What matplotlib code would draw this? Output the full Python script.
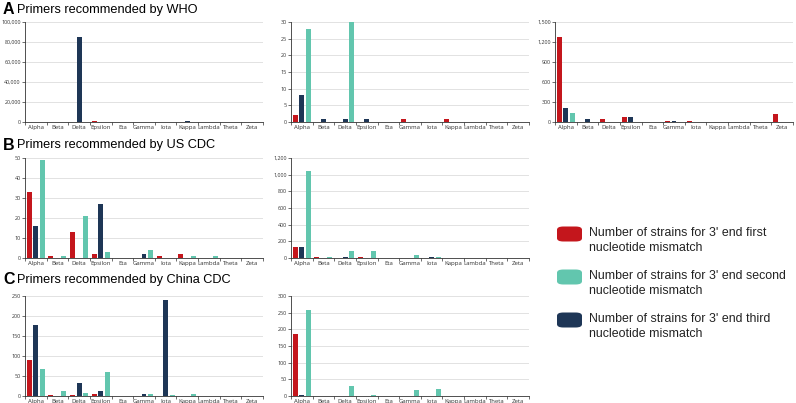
import matplotlib.pyplot as plt
from matplotlib.patches import FancyBboxPatch
from matplotlib.ticker import FuncFormatter
import numpy as np

variants = ['Alpha', 'Beta', 'Delta', 'Epsilon', 'Eta', 'Gamma',
            'Iota', 'Kappa', 'Lambda', 'Theta', 'Zeta']

# number of strains per variant: first / second / third nucleotide mismatch
who1_first = [0, 0, 0, 900, 0, 0, 0, 0, 0, 0, 0]
who1_second = [0, 0, 0, 0, 0, 0, 0, 0, 0, 0, 0]
who1_third = [0, 0, 85500, 0, 0, 0, 0, 1300, 0, 0, 0]

who2_first = [2, 0, 0, 0, 0, 1, 0, 1, 0, 0, 0]
who2_second = [28, 0, 30, 0, 0, 0, 0, 0, 0, 0, 0]
who2_third = [8, 1, 1, 1, 0, 0, 0, 0, 0, 0, 0]

who3_first = [1268, 0, 50, 75, 0, 15, 10, 0, 0, 0, 126]
who3_second = [141, 0, 0, 0, 0, 0, 0, 0, 0, 0, 0]
who3_third = [211, 40, 5, 70, 0, 20, 0, 0, 0, 0, 0]

us1_first = [33, 1, 13, 2, 0, 0, 1, 2, 0, 0, 0]
us1_second = [49, 1, 21, 3, 0, 4, 0, 1, 1, 0, 0]
us1_third = [16, 0, 0, 27, 0, 2, 0, 0, 0, 0, 0]

us2_first = [135, 14, 5, 10, 0, 0, 0, 0, 0, 0, 0]
us2_second = [1045, 14, 90, 82, 3, 42, 12, 0, 0, 0, 0]
us2_third = [138, 0, 8, 0, 0, 3, 8, 0, 0, 0, 0]

cn1_first = [89, 3, 3, 6, 1, 0, 0, 1, 0, 0, 0]
cn1_second = [67, 12.5, 7, 60, 0, 6, 3, 4, 1, 0, 0]
cn1_third = [178, 0, 32, 13, 0, 5, 239, 0, 1, 0, 0]

cn2_first = [185, 0, 1, 0, 0, 0, 0, 0, 0, 0, 0]
cn2_second = [259, 0, 31.5, 2, 0, 17, 22, 0, 0, 0, 0]
cn2_third = [3, 0, 0, 0, 0, 0, 0, 0, 0, 0, 0]

titles = ['Primers recommended by WHO', 'Primers recommended by US CDC',
          'Primers recommended by China CDC']
letters = ['A', 'B', 'C']
legend_labels = ["Number of strains for 3' end first\nnucleotide mismatch",
                 "Number of strains for 3' end second\nnucleotide mismatch",
                 "Number of strains for 3' end third\nnucleotide mismatch"]

RED = '#c4161c'
TEAL = '#62c6ae'
NAVY = '#1e3656'

plt.rcParams['font.family'] = ['Liberation Sans', 'DejaVu Sans']

fig = plt.figure(figsize=(7.96, 4.03), dpi=100)

# (row, col, first, second, third, step, top)
panels = [
    (0, 0, who1_first, who1_second, who1_third, 20000, 100000),
    (0, 1, who2_first, who2_second, who2_third, 5, 30),
    (0, 2, who3_first, who3_second, who3_third, 300, 1500),
    (1, 0, us1_first, us1_second, us1_third, 10, 50),
    (1, 1, us2_first, us2_second, us2_third, 200, 1200),
    (2, 0, cn1_first, cn1_second, cn1_third, 50, 250),
    (2, 1, cn2_first, cn2_second, cn2_third, 50, 300),
]

row_top_px = [22, 158, 296]
col_left_px = [25, 291, 555]
W, H = 796, 403

x = np.arange(len(variants))
bw = 0.23
off = 0.3

for row, col, first, second, third, step, top in panels:
    left = col_left_px[col] / W
    bottom = 1 - (row_top_px[row] + 100) / H
    ax = fig.add_axes([left, bottom, 238 / W, 100 / H])
    # bar order inside each group: first, third, second
    ax.bar(x - off, first, bw, color=RED, zorder=3)
    ax.bar(x, third, bw, color=NAVY, zorder=3)
    ax.bar(x + off, second, bw, color=TEAL, zorder=3)

    ax.set_xlim(-0.5, len(variants) - 0.5)
    ax.set_ylim(0, top)
    ax.set_yticks(np.arange(0, top + step, step))
    ax.yaxis.set_major_formatter(FuncFormatter(lambda v, p: f'{int(v):,}'))
    ax.set_xticks(x)
    ax.set_xticklabels(variants)
    ax.set_xticks(np.arange(-0.5, len(variants)), minor=True)
    ax.tick_params(axis='x', which='major', length=0, pad=2,
                   labelsize=4.3, labelcolor='#333333')
    ax.tick_params(axis='x', which='minor', length=2, width=0.5, color='#333333')
    ax.tick_params(axis='y', length=2, width=0.5, pad=1, color='#333333',
                   labelsize=3.9, labelcolor='#333333')
    for lab in ax.get_xticklabels() + ax.get_yticklabels():
        lab.set_family(['Open Sans', 'DejaVu Sans'])
    ax.grid(axis='y', color='#dddddd', linewidth=0.6, zorder=0)
    for s in ['top', 'right']:
        ax.spines[s].set_visible(False)
    for s in ['left', 'bottom']:
        ax.spines[s].set_color('#333333')
        ax.spines[s].set_linewidth(0.6)
    ax.set_facecolor('none')

# panel titles
for i, (letter, title) in enumerate(zip(letters, titles)):
    ty = 1 - (10 + 135 * i) / H
    fig.text(3 / W, ty, letter, fontsize=11.5, fontweight='bold', va='center', ha='left')
    fig.text(17 / W, ty, title, fontsize=9.2, va='center', ha='left')

# legend
for i, (c, lab) in enumerate(zip([RED, TEAL, NAVY], legend_labels)):
    cy = 234 + 43 * i
    box = FancyBboxPatch((557 / W, 1 - (cy + 7.5) / H), 25 / W, 15 / H,
                         boxstyle='round,pad=0,rounding_size=0.008',
                         transform=fig.transFigure, facecolor=c, edgecolor='none')
    fig.add_artist(box)
    fig.text(589 / W, 1 - (cy - 7) / H, lab, fontsize=8.9, va='top', ha='left',
             linespacing=1.3, color='#222222')

fig.savefig('out.png', dpi=100)
